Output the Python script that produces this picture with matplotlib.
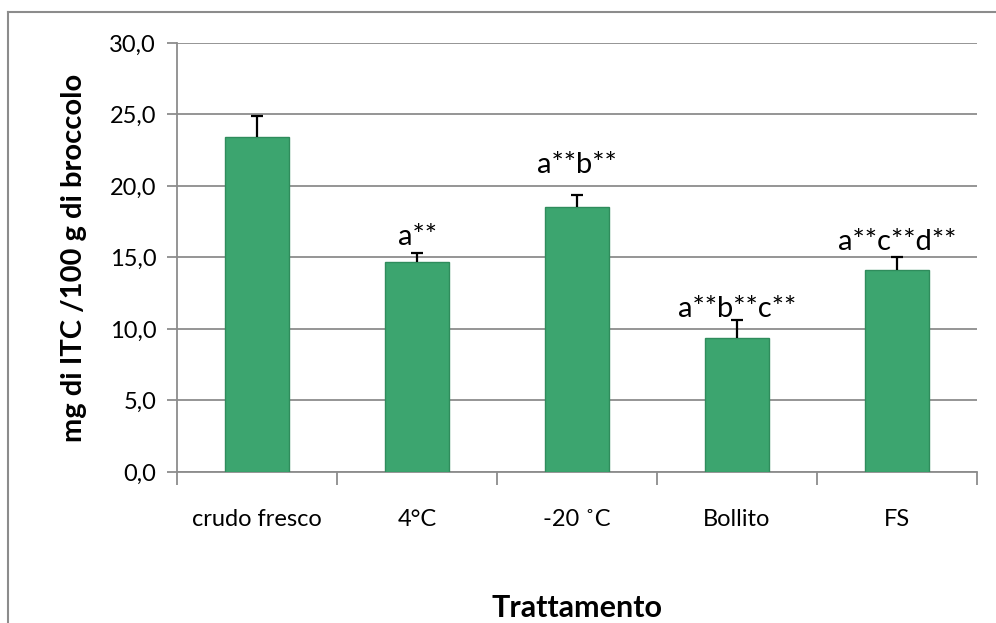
import matplotlib.pyplot as plt
import numpy as np
from matplotlib.lines import Line2D

plt.rcParams['font.family'] = ['Lato', 'DejaVu Sans']

categories = ['crudo fresco', '4°C', '-20 ˚C', 'Bollito', 'FS']
values = [23.4, 14.7, 18.5, 9.4, 14.1]
errors = [1.5, 0.6, 0.9, 1.2, 0.9]
sig_labels = ['', 'a**', 'a**b**', 'a**b**c**', 'a**c**d**']
sig_y = [None, 16.4, 21.5, 11.4, 16.1]
yticks = [0, 5, 10, 15, 20, 25, 30]

grey = '#8c8c8c'
green = '#3ca56f'

fig = plt.figure(figsize=(9.96, 6.23), dpi=100)
ax = fig.add_axes([0.1777, 0.2424, 0.8033, 0.6886])

x = np.arange(len(categories))
vals = np.array(values)
errs = np.array(errors)
ax.bar(x, vals, width=0.40, color=green, edgecolor='#2f8c5c', linewidth=1.0, zorder=3)
# upper-only error bars with a single cap
ax.vlines(x, vals, vals + errs, color='black', linewidth=1.6, zorder=4)
ax.hlines(vals + errs, x - 0.04, x + 0.04, color='black', linewidth=1.6, zorder=4)

for xi, lab, ly in zip(x, sig_labels, sig_y):
    if lab:
        ax.text(xi, ly, lab, ha='center', va='center', fontsize=21, zorder=5)

ax.set_xlim(-0.5, 4.5)
ax.set_ylim(0, 30)
ax.set_yticks(yticks)
ax.set_yticklabels([f'{v:.1f}'.replace('.', ',') for v in yticks], fontsize=17)
ax.yaxis.grid(True, color=grey, linewidth=1.3, zorder=0)
ax.set_axisbelow(True)

ax.set_xticks(x)
ax.set_xticklabels(categories, fontsize=17)
ax.set_xticks(np.arange(-0.5, 5.0, 1.0), minor=True)
ax.tick_params(axis='x', which='major', length=0, pad=27)
ax.tick_params(axis='x', which='minor', length=9, width=1.3, color=grey, direction='out')
ax.tick_params(axis='y', length=7, width=1.3, color=grey, pad=8)

for s in ['top', 'right']:
    ax.spines[s].set_visible(False)
for s in ['left', 'bottom']:
    ax.spines[s].set_color(grey)
    ax.spines[s].set_linewidth(1.3)

ax.set_xlabel('Trattamento', fontsize=22, fontweight='bold', labelpad=46)
ax.set_ylabel('mg di ITC /100 g di broccolo', fontsize=21, fontweight='bold', labelpad=16)

# outer chart border (only left and top visible)
fig.add_artist(Line2D([8 / 996, 8 / 996], [0, 1 - 12 / 623], transform=fig.transFigure, color=grey, linewidth=1.5))
fig.add_artist(Line2D([8 / 996, 1], [1 - 12 / 623, 1 - 12 / 623], transform=fig.transFigure, color=grey, linewidth=1.5))

fig.savefig('out.png', dpi=100, facecolor='white')
